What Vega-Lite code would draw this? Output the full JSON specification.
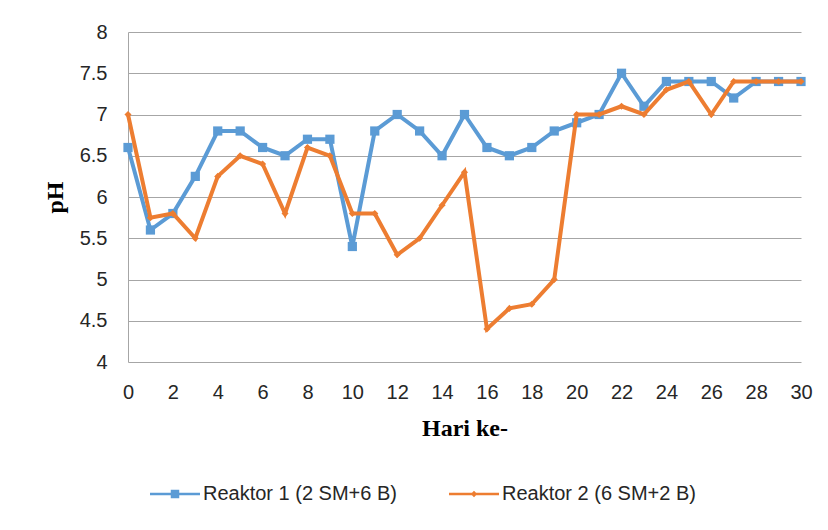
{
  "$schema": "https://vega.github.io/schema/vega-lite/v6.json",
  "width": 673,
  "height": 330,
  "autosize": {"type": "none"},
  "padding": {"left": 128, "top": 32, "right": 27, "bottom": 168},
  "background": "white",
  "config": {
    "view": {"stroke": null},
    "axis": {"labelFont": "Liberation Sans", "labelFontSize": 20, "labelColor": "#262626", "titleFont": "Liberation Serif", "titleFontWeight": "bold", "titleFontSize": 24, "titleColor": "#000000"}
  },
  "data": {"values": [
    {"hari": 0, "reaktor": "Reaktor 1 (2 SM+6 B)", "ph": 6.6},
    {"hari": 1, "reaktor": "Reaktor 1 (2 SM+6 B)", "ph": 5.6},
    {"hari": 2, "reaktor": "Reaktor 1 (2 SM+6 B)", "ph": 5.8},
    {"hari": 3, "reaktor": "Reaktor 1 (2 SM+6 B)", "ph": 6.25},
    {"hari": 4, "reaktor": "Reaktor 1 (2 SM+6 B)", "ph": 6.8},
    {"hari": 5, "reaktor": "Reaktor 1 (2 SM+6 B)", "ph": 6.8},
    {"hari": 6, "reaktor": "Reaktor 1 (2 SM+6 B)", "ph": 6.6},
    {"hari": 7, "reaktor": "Reaktor 1 (2 SM+6 B)", "ph": 6.5},
    {"hari": 8, "reaktor": "Reaktor 1 (2 SM+6 B)", "ph": 6.7},
    {"hari": 9, "reaktor": "Reaktor 1 (2 SM+6 B)", "ph": 6.7},
    {"hari": 10, "reaktor": "Reaktor 1 (2 SM+6 B)", "ph": 5.4},
    {"hari": 11, "reaktor": "Reaktor 1 (2 SM+6 B)", "ph": 6.8},
    {"hari": 12, "reaktor": "Reaktor 1 (2 SM+6 B)", "ph": 7.0},
    {"hari": 13, "reaktor": "Reaktor 1 (2 SM+6 B)", "ph": 6.8},
    {"hari": 14, "reaktor": "Reaktor 1 (2 SM+6 B)", "ph": 6.5},
    {"hari": 15, "reaktor": "Reaktor 1 (2 SM+6 B)", "ph": 7.0},
    {"hari": 16, "reaktor": "Reaktor 1 (2 SM+6 B)", "ph": 6.6},
    {"hari": 17, "reaktor": "Reaktor 1 (2 SM+6 B)", "ph": 6.5},
    {"hari": 18, "reaktor": "Reaktor 1 (2 SM+6 B)", "ph": 6.6},
    {"hari": 19, "reaktor": "Reaktor 1 (2 SM+6 B)", "ph": 6.8},
    {"hari": 20, "reaktor": "Reaktor 1 (2 SM+6 B)", "ph": 6.9},
    {"hari": 21, "reaktor": "Reaktor 1 (2 SM+6 B)", "ph": 7.0},
    {"hari": 22, "reaktor": "Reaktor 1 (2 SM+6 B)", "ph": 7.5},
    {"hari": 23, "reaktor": "Reaktor 1 (2 SM+6 B)", "ph": 7.1},
    {"hari": 24, "reaktor": "Reaktor 1 (2 SM+6 B)", "ph": 7.4},
    {"hari": 25, "reaktor": "Reaktor 1 (2 SM+6 B)", "ph": 7.4},
    {"hari": 26, "reaktor": "Reaktor 1 (2 SM+6 B)", "ph": 7.4},
    {"hari": 27, "reaktor": "Reaktor 1 (2 SM+6 B)", "ph": 7.2},
    {"hari": 28, "reaktor": "Reaktor 1 (2 SM+6 B)", "ph": 7.4},
    {"hari": 29, "reaktor": "Reaktor 1 (2 SM+6 B)", "ph": 7.4},
    {"hari": 30, "reaktor": "Reaktor 1 (2 SM+6 B)", "ph": 7.4},
    {"hari": 0, "reaktor": "Reaktor 2 (6 SM+2 B)", "ph": 7.0},
    {"hari": 1, "reaktor": "Reaktor 2 (6 SM+2 B)", "ph": 5.75},
    {"hari": 2, "reaktor": "Reaktor 2 (6 SM+2 B)", "ph": 5.8},
    {"hari": 3, "reaktor": "Reaktor 2 (6 SM+2 B)", "ph": 5.5},
    {"hari": 4, "reaktor": "Reaktor 2 (6 SM+2 B)", "ph": 6.25},
    {"hari": 5, "reaktor": "Reaktor 2 (6 SM+2 B)", "ph": 6.5},
    {"hari": 6, "reaktor": "Reaktor 2 (6 SM+2 B)", "ph": 6.4},
    {"hari": 7, "reaktor": "Reaktor 2 (6 SM+2 B)", "ph": 5.8},
    {"hari": 8, "reaktor": "Reaktor 2 (6 SM+2 B)", "ph": 6.6},
    {"hari": 9, "reaktor": "Reaktor 2 (6 SM+2 B)", "ph": 6.5},
    {"hari": 10, "reaktor": "Reaktor 2 (6 SM+2 B)", "ph": 5.8},
    {"hari": 11, "reaktor": "Reaktor 2 (6 SM+2 B)", "ph": 5.8},
    {"hari": 12, "reaktor": "Reaktor 2 (6 SM+2 B)", "ph": 5.3},
    {"hari": 13, "reaktor": "Reaktor 2 (6 SM+2 B)", "ph": 5.5},
    {"hari": 14, "reaktor": "Reaktor 2 (6 SM+2 B)", "ph": 5.9},
    {"hari": 15, "reaktor": "Reaktor 2 (6 SM+2 B)", "ph": 6.3},
    {"hari": 16, "reaktor": "Reaktor 2 (6 SM+2 B)", "ph": 4.4},
    {"hari": 17, "reaktor": "Reaktor 2 (6 SM+2 B)", "ph": 4.65},
    {"hari": 18, "reaktor": "Reaktor 2 (6 SM+2 B)", "ph": 4.7},
    {"hari": 19, "reaktor": "Reaktor 2 (6 SM+2 B)", "ph": 5.0},
    {"hari": 20, "reaktor": "Reaktor 2 (6 SM+2 B)", "ph": 7.0},
    {"hari": 21, "reaktor": "Reaktor 2 (6 SM+2 B)", "ph": 7.0},
    {"hari": 22, "reaktor": "Reaktor 2 (6 SM+2 B)", "ph": 7.1},
    {"hari": 23, "reaktor": "Reaktor 2 (6 SM+2 B)", "ph": 7.0},
    {"hari": 24, "reaktor": "Reaktor 2 (6 SM+2 B)", "ph": 7.3},
    {"hari": 25, "reaktor": "Reaktor 2 (6 SM+2 B)", "ph": 7.4},
    {"hari": 26, "reaktor": "Reaktor 2 (6 SM+2 B)", "ph": 7.0},
    {"hari": 27, "reaktor": "Reaktor 2 (6 SM+2 B)", "ph": 7.4},
    {"hari": 28, "reaktor": "Reaktor 2 (6 SM+2 B)", "ph": 7.4},
    {"hari": 29, "reaktor": "Reaktor 2 (6 SM+2 B)", "ph": 7.4},
    {"hari": 30, "reaktor": "Reaktor 2 (6 SM+2 B)", "ph": 7.4}
  ]},
  "encoding": {
    "x": {
      "field": "hari", "type": "quantitative", "title": "Hari ke-",
      "scale": {"domain": [0, 30], "nice": false, "zero": false},
      "axis": {"values": [0, 2, 4, 6, 8, 10, 12, 14, 16, 18, 20, 22, 24, 26, 28, 30], "grid": false, "domain": false, "ticks": false, "labelPadding": 20, "titlePadding": 14, "labelFlush": false}
    },
    "y": {
      "field": "ph", "type": "quantitative", "title": "pH",
      "scale": {"domain": [4, 8], "nice": false, "zero": false},
      "axis": {"values": [4, 4.5, 5, 5.5, 6, 6.5, 7, 7.5, 8], "format": ".1~f", "grid": true, "gridColor": "#a6a6a6", "gridWidth": 1, "domain": true, "domainColor": "#a6a6a6", "domainWidth": 1, "ticks": false, "labelPadding": 21, "titlePadding": 12, "labelFlush": false}
    },
    "color": {
      "field": "reaktor", "type": "nominal",
      "scale": {"domain": ["Reaktor 1 (2 SM+6 B)", "Reaktor 2 (6 SM+2 B)"], "range": ["#5B9BD5", "#ED7D31"]},
      "legend": {
        "orient": "none", "legendX": 22, "legendY": 437, "direction": "horizontal", "title": null,
        "symbolType": "M-1,-0.04H1V0.04H-1Z", "symbolSize": 2500,
        "labelFont": "Liberation Sans", "labelFontSize": 20, "labelColor": "#262626", "labelOffset": 3, "labelLimit": 400, "columnPadding": 52,
        "encode": {"symbols": {"update": {
          "shape": {"signal": "datum.value === 'Reaktor 1 (2 SM+6 B)' ? 'M-1,-0.05H1V0.05H-1Z M-0.17,-0.17H0.17V0.17H-0.17Z' : 'M-1,-0.05H1V0.05H-1Z M0,-0.13L0.13,0L0,0.13L-0.13,0Z'"},
          "fill": {"scale": "color", "field": "value"},
          "stroke": {"value": "transparent"},
          "strokeWidth": {"value": 0}
        }}}
      }
    }
  },
  "layer": [
    {"transform": [{"filter": "datum.reaktor === 'Reaktor 1 (2 SM+6 B)'"}], "mark": {"type": "line", "strokeWidth": 4}},
    {"transform": [{"filter": "datum.reaktor === 'Reaktor 1 (2 SM+6 B)'"}], "mark": {"type": "point", "shape": "square", "filled": true, "opacity": 1, "size": 85}},
    {"transform": [{"filter": "datum.reaktor === 'Reaktor 2 (6 SM+2 B)'"}], "mark": {"type": "line", "strokeWidth": 4}},
    {"transform": [{"filter": "datum.reaktor === 'Reaktor 2 (6 SM+2 B)'"}], "mark": {"type": "point", "shape": "diamond", "filled": true, "opacity": 1, "size": 50}}
  ]
}
